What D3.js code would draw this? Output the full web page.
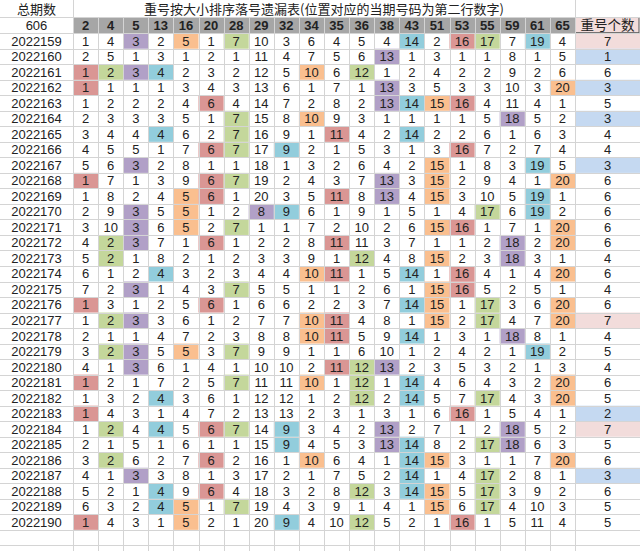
<!DOCTYPE html>
<html>
<head>
<meta charset="utf-8">
<script src="https://cdn.jsdelivr.net/npm/d3@7"></script>
<style>
  body { margin: 0; background: #fff; }
  svg text { font-family: "Liberation Sans", "DejaVu Sans", sans-serif; fill: #222; }
  svg text.cjk { font-family: "Noto Sans CJK SC", sans-serif; }
</style>
</head>
<body>
<div id="chart"></div>
<script>
// Column header: the balls, sorted by size
const numbers = [2, 4, 5, 13, 16, 20, 28, 29, 32, 34, 35, 36, 38, 43, 51, 53, 55, 59, 61, 65];

const periods = [
  "2022159", "2022160", "2022161", "2022162", "2022163", "2022164", "2022165", "2022166",
  "2022167", "2022168", "2022169", "2022170", "2022171", "2022172", "2022173", "2022174",
  "2022175", "2022176", "2022177", "2022178", "2022179", "2022180", "2022181", "2022182",
  "2022183", "2022184", "2022185", "2022186", "2022187", "2022188", "2022189", "2022190"
];

// Omission value of each column, one row per period
const omissions = [
  [1, 4, 3, 2, 5, 1, 7, 10, 3, 6, 4, 5, 4, 14, 2, 16, 17, 7, 19, 4],
  [2, 5, 1, 3, 1, 2, 1, 11, 4, 7, 5, 6, 13, 1, 3, 1, 1, 8, 1, 5],
  [1, 2, 3, 4, 2, 3, 2, 12, 5, 10, 6, 12, 1, 2, 4, 2, 2, 9, 2, 6],
  [1, 1, 1, 1, 3, 4, 3, 13, 6, 1, 7, 1, 13, 3, 5, 3, 3, 10, 3, 20],
  [1, 2, 2, 2, 4, 6, 4, 14, 7, 2, 8, 2, 13, 14, 15, 16, 4, 11, 4, 1],
  [2, 3, 3, 3, 5, 1, 7, 15, 8, 10, 9, 3, 1, 1, 1, 1, 5, 18, 5, 2],
  [3, 4, 4, 4, 6, 2, 7, 16, 9, 1, 11, 4, 2, 14, 2, 2, 6, 1, 6, 3],
  [4, 5, 5, 1, 7, 6, 7, 17, 9, 2, 1, 5, 3, 1, 3, 16, 7, 2, 7, 4],
  [5, 6, 3, 2, 8, 1, 1, 18, 1, 3, 2, 6, 4, 2, 15, 1, 8, 3, 19, 5],
  [1, 7, 1, 3, 9, 6, 7, 19, 2, 4, 3, 7, 13, 3, 15, 2, 9, 4, 1, 20],
  [1, 8, 2, 4, 5, 6, 1, 20, 3, 5, 11, 8, 13, 4, 15, 3, 10, 5, 19, 1],
  [2, 9, 3, 5, 5, 1, 2, 8, 9, 6, 1, 9, 1, 5, 1, 4, 17, 6, 19, 2],
  [3, 10, 3, 6, 5, 2, 7, 1, 1, 7, 2, 10, 2, 6, 15, 16, 1, 7, 1, 20],
  [4, 2, 3, 7, 1, 6, 1, 2, 2, 8, 11, 11, 3, 7, 1, 1, 2, 18, 2, 20],
  [5, 2, 1, 8, 2, 1, 2, 3, 3, 9, 1, 12, 4, 8, 15, 2, 3, 18, 3, 1],
  [6, 1, 2, 4, 3, 2, 3, 4, 4, 10, 11, 1, 5, 14, 1, 16, 4, 1, 4, 20],
  [7, 2, 3, 1, 4, 3, 7, 5, 5, 1, 1, 2, 6, 1, 15, 16, 5, 2, 5, 1],
  [1, 3, 1, 2, 5, 6, 1, 6, 6, 2, 2, 3, 7, 14, 15, 1, 17, 3, 6, 20],
  [1, 2, 3, 3, 6, 1, 2, 7, 7, 10, 11, 4, 8, 1, 15, 2, 17, 4, 7, 20],
  [2, 1, 1, 4, 7, 2, 3, 8, 8, 10, 11, 5, 9, 14, 1, 3, 1, 18, 8, 1],
  [3, 2, 3, 5, 5, 3, 7, 9, 9, 1, 1, 6, 10, 1, 2, 4, 2, 1, 19, 2],
  [4, 1, 3, 6, 1, 4, 1, 10, 10, 2, 11, 12, 13, 2, 3, 5, 3, 2, 1, 3],
  [1, 2, 1, 7, 2, 5, 7, 11, 11, 10, 1, 12, 1, 14, 4, 6, 4, 3, 2, 20],
  [1, 3, 2, 4, 3, 6, 1, 12, 12, 1, 2, 12, 2, 14, 5, 7, 17, 4, 3, 20],
  [1, 4, 3, 1, 4, 7, 2, 13, 13, 2, 3, 1, 3, 1, 6, 16, 1, 5, 4, 1],
  [1, 2, 4, 4, 5, 6, 7, 14, 9, 3, 4, 2, 13, 2, 7, 1, 2, 18, 5, 2],
  [2, 1, 5, 1, 6, 1, 1, 15, 9, 4, 5, 3, 13, 14, 8, 2, 17, 18, 6, 3],
  [3, 2, 6, 2, 7, 6, 2, 16, 1, 10, 6, 4, 1, 14, 15, 3, 1, 1, 7, 20],
  [4, 1, 3, 3, 8, 1, 3, 17, 2, 1, 7, 5, 2, 14, 1, 4, 17, 2, 8, 1],
  [5, 2, 1, 4, 9, 6, 4, 18, 3, 2, 8, 12, 3, 14, 15, 5, 17, 3, 9, 2],
  [6, 3, 2, 4, 5, 1, 7, 19, 4, 3, 9, 1, 4, 1, 15, 6, 17, 4, 10, 3],
  [1, 4, 3, 1, 5, 2, 1, 20, 9, 4, 10, 12, 5, 2, 1, 16, 1, 5, 11, 4]
];

// Balls that repeated in each period (highlighted cells)
const hits = [
  [5, 16, 28, 43, 53, 55, 61],
  [38],
  [2, 4, 5, 13, 34, 36],
  [2, 38, 65],
  [20, 38, 43, 51, 53],
  [28, 34, 59],
  [13, 28, 35, 43],
  [20, 28, 32, 53],
  [5, 51, 61],
  [2, 20, 28, 38, 51, 65],
  [16, 20, 35, 38, 51, 61],
  [5, 16, 29, 32, 55, 61],
  [5, 16, 28, 51, 53, 65],
  [4, 5, 20, 35, 59, 65],
  [4, 36, 51, 59],
  [13, 34, 35, 43, 53, 65],
  [5, 28, 51, 53],
  [2, 20, 43, 51, 55, 65],
  [4, 5, 34, 35, 51, 55, 65],
  [34, 35, 43, 59],
  [4, 5, 16, 28, 61],
  [5, 35, 36, 38],
  [2, 28, 34, 36, 43, 65],
  [13, 36, 43, 55, 65],
  [2, 53],
  [4, 13, 20, 28, 32, 38, 59],
  [32, 38, 43, 55, 59],
  [4, 20, 34, 43, 51, 65],
  [5, 43, 55],
  [13, 20, 36, 43, 51, 55],
  [13, 16, 28, 51, 55],
  [2, 16, 32, 36, 53]
];

// 重号个数
const repeatCounts = [7, 1, 6, 3, 5, 3, 4, 4, 3, 6, 6, 6, 6, 6, 4, 6, 4, 6, 7, 4, 5, 4, 6, 5, 2, 7, 5, 6, 3, 6, 5, 5];

const totalLabel = "总期数";
const totalCount = "606";
const title = "重号按大小排序落号遗漏表(位置对应的当期号码为第二行数字)";
const countLabel = "重号个数";

const width = 640;
const height = 551;

// Highlight colours cycle by column position
const hitColors = ["#da9694", "#c4d79b", "#b1a0c7", "#92cddc", "#fabf8f"];

const svg = d3
  .select("#chart")
  .append("svg")
  .attr("width", width)
  .attr("height", height);

const firstColRight = 73;
const lastColLeft = 575;
const titleBottom = 17;
const headerBottom = 33.2;
const rowH = 15.52;

const x = d3.scaleBand().domain(numbers).range([firstColRight, lastColLeft]);
const y = d3
  .scaleBand()
  .domain(periods)
  .range([headerBottom, headerBottom + periods.length * rowH]);

const gridColor = "#d4d4d4";

// Header band of ball numbers
svg
  .append("rect")
  .attr("x", firstColRight)
  .attr("y", titleBottom)
  .attr("width", lastColLeft - firstColRight)
  .attr("height", headerBottom - titleBottom)
  .attr("fill", "#a6a6a6");

// 重号个数 header cell
svg
  .append("rect")
  .attr("x", lastColLeft + 0.5)
  .attr("y", titleBottom + 0.5)
  .attr("width", width - lastColLeft - 1.5)
  .attr("height", headerBottom - titleBottom - 1)
  .attr("fill", "#f2dcdb")
  .attr("stroke", "#555")
  .attr("stroke-width", 1);

// Highlighted cells
const cells = [];
periods.forEach((p, i) => {
  numbers.forEach((n, j) => {
    cells.push({ period: p, num: n, col: j, value: omissions[i][j], hit: hits[i].includes(n) });
  });
});

svg
  .selectAll(".hit")
  .data(cells.filter((d) => d.hit))
  .enter()
  .append("rect")
  .attr("class", "hit")
  .attr("x", (d) => x(d.num))
  .attr("y", (d) => y(d.period))
  .attr("width", x.bandwidth())
  .attr("height", y.bandwidth())
  .attr("fill", (d) => hitColors[d.col % 5]);

// Count column colouring
svg
  .selectAll(".count-bg")
  .data(periods.map((p, i) => ({ period: p, count: repeatCounts[i] })))
  .enter()
  .append("rect")
  .attr("class", "count-bg")
  .attr("x", lastColLeft)
  .attr("y", (d) => y(d.period))
  .attr("width", width - lastColLeft)
  .attr("height", y.bandwidth())
  .attr("fill", (d) => (d.count <= 3 ? "#c5d9f1" : d.count >= 7 ? "#f2dcdb" : "none"));

// Grid lines
const rowLines = [titleBottom, headerBottom];
for (let k = 1; k <= periods.length + 1; k++) rowLines.push(headerBottom + k * rowH);
svg
  .selectAll(".hline")
  .data(rowLines)
  .enter()
  .append("line")
  .attr("x1", 0)
  .attr("x2", width)
  .attr("y1", (d) => Math.round(d) + 0.5)
  .attr("y2", (d) => Math.round(d) + 0.5)
  .attr("stroke", gridColor);

const colLines = [firstColRight, ...numbers.slice(1).map((n) => x(n)), lastColLeft];
svg
  .selectAll(".vline")
  .data(colLines)
  .enter()
  .append("line")
  .attr("x1", (d) => Math.round(d) + 0.5)
  .attr("x2", (d) => Math.round(d) + 0.5)
  .attr("y1", (d, i) => (i === 0 || i === colLines.length - 1 ? 0 : titleBottom))
  .attr("y2", height)
  .attr("stroke", gridColor);

// Title row
svg
  .append("text")
  .attr("class", "cjk")
  .attr("x", firstColRight / 2)
  .attr("y", 9)
  .attr("dy", "0.36em")
  .attr("text-anchor", "middle")
  .style("font-size", "13px")
  .text(totalLabel);

svg
  .append("text")
  .attr("class", "cjk")
  .attr("x", (firstColRight + lastColLeft) / 2)
  .attr("y", 9)
  .attr("dy", "0.36em")
  .attr("text-anchor", "middle")
  .style("font-size", "13px")
  .text(title);

// Header row
svg
  .append("text")
  .attr("x", firstColRight / 2)
  .attr("y", (titleBottom + headerBottom) / 2)
  .attr("dy", "0.36em")
  .attr("text-anchor", "middle")
  .style("font-size", "13px")
  .text(totalCount);

svg
  .selectAll(".num-head")
  .data(numbers)
  .enter()
  .append("text")
  .attr("class", "num-head")
  .attr("x", (d) => x(d) + x.bandwidth() / 2)
  .attr("y", (titleBottom + headerBottom) / 2)
  .attr("dy", "0.36em")
  .attr("text-anchor", "middle")
  .style("font-size", "13px")
  .style("font-weight", "bold")
  .text((d) => d);

svg
  .append("text")
  .attr("class", "cjk")
  .attr("x", (lastColLeft + width) / 2)
  .attr("y", (titleBottom + headerBottom) / 2)
  .attr("dy", "0.36em")
  .attr("text-anchor", "middle")
  .style("font-size", "13.5px")
  .text(countLabel);

// Period labels
svg
  .selectAll(".period")
  .data(periods)
  .enter()
  .append("text")
  .attr("class", "period")
  .attr("x", firstColRight / 2)
  .attr("y", (d) => y(d) + y.bandwidth() / 2)
  .attr("dy", "0.36em")
  .attr("text-anchor", "middle")
  .style("font-size", "13px")
  .text((d) => d);

// Omission values
svg
  .selectAll(".val")
  .data(cells)
  .enter()
  .append("text")
  .attr("class", "val")
  .attr("x", (d) => x(d.num) + x.bandwidth() / 2)
  .attr("y", (d) => y(d.period) + y.bandwidth() / 2)
  .attr("dy", "0.36em")
  .attr("text-anchor", "middle")
  .style("font-size", "13px")
  .text((d) => d.value);

// Repeat counts
svg
  .selectAll(".count")
  .data(periods.map((p, i) => ({ period: p, count: repeatCounts[i] })))
  .enter()
  .append("text")
  .attr("class", "count")
  .attr("x", (lastColLeft + width) / 2)
  .attr("y", (d) => y(d.period) + y.bandwidth() / 2)
  .attr("dy", "0.36em")
  .attr("text-anchor", "middle")
  .style("font-size", "13px")
  .text((d) => d.count);
</script>
</body>
</html>
